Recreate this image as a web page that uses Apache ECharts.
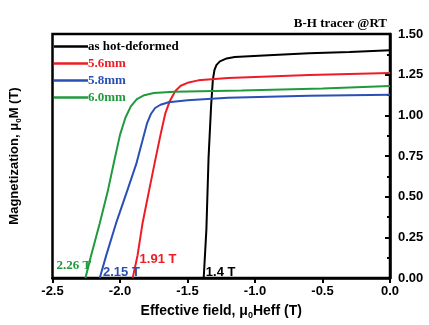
<!DOCTYPE html>
<html>
<head>
<meta charset="utf-8">
<script src="https://cdn.jsdelivr.net/npm/echarts@6/dist/echarts.min.js"></script>
<style>
	html, body {margin: 0; padding: 0; background: #fff;}
	#main {width: 429px; height: 325px;}
</style>
</head>
<body>
<div id="main"></div>
<script>
// demagnetization curves, [field (T), magnetization (T)]
const hotDeformed = [
	[-1.38, 0], [-1.36, 0.30], [-1.344, 0.74], [-1.325, 1.06], [-1.312, 1.22],
	[-1.3, 1.28], [-1.285, 1.31], [-1.26, 1.332], [-1.21, 1.35], [-1.15, 1.358],
	[-0.9, 1.37], [-0.6, 1.382], [-0.3, 1.39], [0, 1.40]
];
const d56 = [
	[-1.906, 0], [-1.87, 0.139], [-1.833, 0.337], [-1.784, 0.54], [-1.74, 0.72],
	[-1.7, 0.88], [-1.665, 1.01], [-1.63, 1.09], [-1.59, 1.15], [-1.55, 1.182],
	[-1.5, 1.2], [-1.42, 1.215], [-1.2, 1.23], [-0.6, 1.248], [0, 1.26]
];
const d58 = [
	[-2.15, 0], [-2.102, 0.139], [-2.029, 0.337], [-1.945, 0.54], [-1.88, 0.70],
	[-1.835, 0.84], [-1.8, 0.95], [-1.77, 1.01], [-1.74, 1.045], [-1.7, 1.065],
	[-1.64, 1.08], [-1.5, 1.093], [-1.2, 1.108], [-0.6, 1.12], [0, 1.127]
];
const d60 = [
	[-2.256, 0], [-2.214, 0.139], [-2.15, 0.337], [-2.089, 0.54], [-2.04, 0.73],
	[-2.0, 0.88], [-1.96, 0.985], [-1.92, 1.055], [-1.875, 1.1], [-1.82, 1.124],
	[-1.75, 1.137], [-1.6, 1.145], [-1.1, 1.152], [-0.5, 1.165], [0, 1.18]
];
const seriesNames = ['as hot-deformed', '5.6mm', '5.8mm', '6.0mm'];
const seriesColors = ['#000000', '#ee1c25', '#2a4fb5', '#1f9a3c'];
const coercivityLabels = ['1.4 T', '1.91 T', '2.15 T', '2.26 T'];
const labelCoords = [[-1.364, 0.036], [-1.855, 0.115], [-2.126, 0.036], [-2.47, 0.078]];

const chart = echarts.init(document.getElementById('main'));
const curves = [hotDeformed, d56, d58, d60];
const labelFonts = ['Arial', 'Arial', 'Arial', 'Liberation Serif'];

chart.setOption({
	animation: false,
	title: {
		text: 'B-H tracer @RT',
		right: 37, top: 12,
		textStyle: {fontFamily: 'Liberation Serif', fontWeight: 'bold', fontSize: 13, color: '#000'}
	},
	grid: {left: 49, right: 39, top: 34, bottom: 42, show: true, borderColor: '#000', borderWidth: 2.5},
	legend: {
		orient: 'vertical', left: 49, top: 35, itemGap: 4,
		itemWidth: 34, itemHeight: 2.5, icon: 'rect',
		data: seriesNames.map((n, i) => ({name: n, textStyle: {color: seriesColors[i]}})),
		textStyle: {fontFamily: 'Liberation Serif', fontWeight: 'bold', fontSize: 13, padding: [0, 0, 0, -5]}
	},
	xAxis: {
		type: 'value', min: -2.5, max: 0, interval: 0.5,
		name: '{a|Effective field, μ}{s|0}{a|Heff (T)}',
		nameLocation: 'middle', nameGap: 25,
		nameTextStyle: {rich: {
			a: {fontFamily: 'Arial', fontWeight: 'bold', fontSize: 14, color: '#000'},
			s: {fontFamily: 'Arial', fontWeight: 'bold', fontSize: 9, color: '#000', verticalAlign: 'bottom', padding: [8, 0, 0, 0]}
		}},
		axisLine: {lineStyle: {color: '#000', width: 2.5}},
		axisTick: {inside: false, length: 5, lineStyle: {width: 2, color: '#000'}},
		splitLine: {show: false},
		axisLabel: {formatter: v => v.toFixed(1), fontFamily: 'Arial', fontWeight: 'bold', fontSize: 13, color: '#000', margin: 7}
	},
	yAxis: [{
		type: 'value', position: 'right', min: 0, max: 1.5, interval: 0.25,
		axisLine: {show: true, lineStyle: {color: '#000', width: 2.5}},
		axisTick: {inside: true, length: 5, lineStyle: {width: 2, color: '#000'}},
		minorTick: {show: true, splitNumber: 2, length: 3, lineStyle: {width: 2, color: '#000'}},
		splitLine: {show: false},
		axisLabel: {formatter: v => v.toFixed(2), fontFamily: 'Arial', fontWeight: 'bold', fontSize: 13, color: '#000', margin: 8}
	}, {
		type: 'value', position: 'left', min: 0, max: 1.5,
		axisLine: {show: false}, axisTick: {show: false}, axisLabel: {show: false}, splitLine: {show: false},
		name: '{a|Magnetization, μ}{s|0}{a|M (T)}',
		nameLocation: 'middle', nameGap: 30, nameRotate: 90,
		nameTextStyle: {rich: {
			a: {fontFamily: 'Arial', fontWeight: 'bold', fontSize: 13, color: '#000'},
			s: {fontFamily: 'Arial', fontWeight: 'bold', fontSize: 8, color: '#000', verticalAlign: 'bottom', padding: [8, 0, 0, 0]}
		}}
	}],
	series: curves.map((c, i) => ({
		name: seriesNames[i],
		type: 'line',
		data: c,
		symbol: 'none',
		smooth: false,
		lineStyle: {color: seriesColors[i], width: 2},
		itemStyle: {color: seriesColors[i]},
		markPoint: {
			symbol: 'circle', symbolSize: 0,
			data: [{
				coord: labelCoords[i],
				label: {
					show: true, formatter: coercivityLabels[i], position: 'right', distance: 0,
					fontFamily: labelFonts[i], fontWeight: 'bold', fontSize: 13, color: seriesColors[i]
				}
			}]
		}
	}))
});
</script>
</body>
</html>
